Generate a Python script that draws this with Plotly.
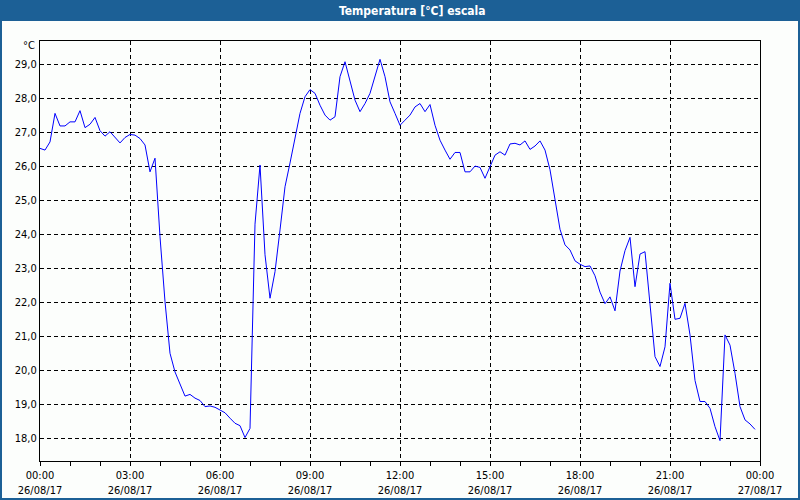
import plotly.graph_objects as go
import pandas as pd

# ---- data ----
times = pd.date_range("2017-08-26 00:00", periods=144, freq="10min")
temperature = [
    26.53, 26.48, 26.72, 27.56, 27.19, 27.19, 27.31, 27.31, 27.64, 27.14,
    27.24, 27.44, 27.05, 26.89, 27.02, 26.87, 26.69, 26.85, 26.94, 26.92,
    26.82, 26.63, 25.84, 26.24, 23.93, 22.02, 20.50, 19.95, 19.57, 19.24,
    19.29, 19.18, 19.11, 18.93, 18.95, 18.91, 18.83, 18.75, 18.59, 18.44,
    18.37, 18.02, 18.29, 24.30, 26.04, 23.40, 22.12, 22.90, 24.13, 25.40,
    26.10, 26.80, 27.56, 28.05, 28.26, 28.15, 27.80, 27.51, 27.36, 27.46,
    28.64, 29.08, 28.54, 27.95, 27.61, 27.85, 28.15, 28.64, 29.15, 28.64,
    27.90, 27.56, 27.21, 27.36, 27.51, 27.75, 27.85, 27.61, 27.82, 27.21,
    26.77, 26.48, 26.21, 26.41, 26.41, 25.84, 25.84, 26.01, 25.97, 25.65,
    25.97, 26.33, 26.43, 26.33, 26.66, 26.68, 26.63, 26.75, 26.50, 26.60,
    26.75, 26.48, 25.90, 25.01, 24.15, 23.69, 23.54, 23.22, 23.12, 23.05,
    23.07, 22.78, 22.30, 21.96, 22.16, 21.75, 22.92, 23.52, 23.91, 22.46,
    23.42, 23.49, 21.97, 20.40, 20.11, 20.69, 22.56, 21.50, 21.53, 21.97,
    21.04, 19.70, 19.08, 19.08, 18.88, 18.34, 17.93, 21.04, 20.74, 19.91,
    18.93, 18.54, 18.42, 18.26,
]
x_tick_vals = ["2017-08-26 00:00", "2017-08-26 03:00", "2017-08-26 06:00",
               "2017-08-26 09:00", "2017-08-26 12:00", "2017-08-26 15:00",
               "2017-08-26 18:00", "2017-08-26 21:00", "2017-08-27 00:00"]
x_tick_text = ["00:00<br>26/08/17", "03:00<br>26/08/17", "06:00<br>26/08/17",
               "09:00<br>26/08/17", "12:00<br>26/08/17", "15:00<br>26/08/17",
               "18:00<br>26/08/17", "21:00<br>26/08/17", "00:00<br>27/08/17"]
y_tick_vals = [18, 19, 20, 21, 22, 23, 24, 25, 26, 27, 28, 29]
title_text = "Temperatura [°C] escala"
unit_text = "°C"

# ---- geometry ----
W, H = 800, 500
L, R, T, B = 40, 40, 41, 39
PW, PH = W - L - R, H - T - B
BLUE = "#1c6096"
FONT = "DejaVu Sans Condensed"

def px(xp):
    return (xp - L) / PW

def py(yp):
    return 1 - (yp - T) / PH

fig = go.Figure()
fig.add_trace(go.Scatter(x=times, y=temperature, mode="lines",
                         line=dict(color="#0000ff", width=1), hoverinfo="x+y"))

fig.update_layout(
    width=W, height=H, autosize=False,
    margin=dict(l=L, r=R, t=T, b=B, pad=0),
    paper_bgcolor="#fcfefc", plot_bgcolor="#fcfefc",
    showlegend=False,
    separators=",.",
    font=dict(family=FONT, size=11, color="#000000"),
    xaxis=dict(
        range=["2017-08-26 00:00", "2017-08-27 00:00"],
        tickvals=x_tick_vals, ticktext=x_tick_text,
        showgrid=True, gridcolor="#000000", gridwidth=1, griddash="4px,3px",
        showline=True, linecolor="#000000", linewidth=1, mirror=True,
        ticks="outside", ticklen=4, tickcolor="#000000",
        minor=dict(dtick=3600000, ticks="outside", ticklen=4,
                   tickcolor="#000000", showgrid=False),
        zeroline=False, automargin=False,
        tickfont=dict(family=FONT, size=11),
    ),
    yaxis=dict(
        range=[17.33, 29.69],
        tickvals=y_tick_vals, tickformat=".1f",
        showgrid=True, gridcolor="#000000", gridwidth=1, griddash="4px,3px",
        showline=True, linecolor="#000000", linewidth=1, mirror=True,
        ticks="", zeroline=False, automargin=False,
        tickfont=dict(family=FONT, size=11),
    ),
    shapes=[
        dict(type="rect", xref="paper", yref="paper",
             x0=px(0), x1=px(W), y0=py(21), y1=py(0),
             fillcolor=BLUE, line=dict(width=0), layer="above"),
        dict(type="rect", xref="paper", yref="paper",
             x0=px(0), x1=px(2), y0=py(H), y1=py(0),
             fillcolor=BLUE, line=dict(width=0), layer="above"),
        dict(type="rect", xref="paper", yref="paper",
             x0=px(W - 2), x1=px(W), y0=py(H), y1=py(0),
             fillcolor=BLUE, line=dict(width=0), layer="above"),
        dict(type="rect", xref="paper", yref="paper",
             x0=px(0), x1=px(W), y0=py(H), y1=py(H - 2),
             fillcolor=BLUE, line=dict(width=0), layer="above"),
    ],
    annotations=[
        dict(text="<b>" + title_text + "</b>", xref="paper", yref="paper",
             x=px(412), y=py(10.5), xanchor="center", yanchor="middle",
             showarrow=False,
             font=dict(family=FONT, size=12, color="#ffffff")),
        dict(text=unit_text, xref="paper", yref="paper",
             x=px(37), y=py(46), xanchor="right", yanchor="middle",
             showarrow=False, font=dict(family=FONT, size=11)),
    ],
)

post = ("document.body.style.margin='0';"
        "document.body.style.padding='0';"
        "document.body.style.overflow='hidden';"
        "var gd=document.getElementById('{plot_id}');"
        "Plotly.relayout(gd,{width:%d,height:%d});" % (W, H))

fig.write_html("out.html", post_script=post,
               config={"responsive": False, "displayModeBar": False})
